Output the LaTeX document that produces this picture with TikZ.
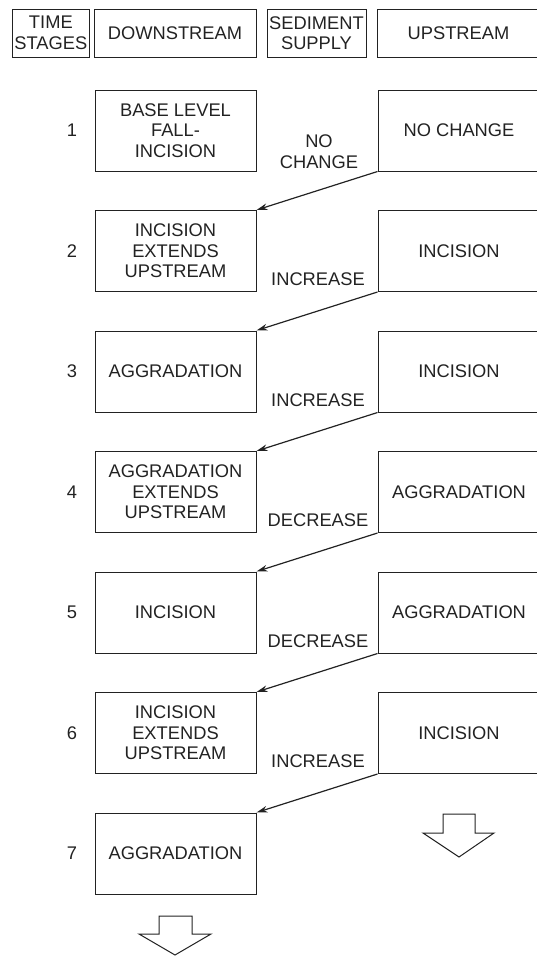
\documentclass[tikz,border=0pt]{standalone}
\usepackage{fontspec}
\setmainfont{Liberation Sans}
\usetikzlibrary{arrows.meta}
\definecolor{ink}{HTML}{222222}
\begin{document}
\begin{tikzpicture}[x=1pt,y=-1pt,
  every node/.style={font=\fontsize{18.3}{20.5}\selectfont, text=ink, align=center, inner sep=0pt},
  hbox/.style={draw=ink, line width=1pt, minimum height=48pt},
  dbox/.style={draw=ink, line width=1pt, minimum width=161pt, minimum height=81pt},
  ubox/.style={draw=ink, line width=1pt, minimum width=162pt, minimum height=81pt},
  flow/.style={draw=ink, line width=1.2pt, -{Stealth[length=11pt,width=6.5pt]}},
  hollow/.style={draw=ink, line width=1pt, fill=white, line join=miter}]
\useasboundingbox (0,0) rectangle (537,956);
\clip (0,0) rectangle (537,956);
% header
\node[hbox, minimum width=76.3pt] (hT) at (50.85,33) {TIME\\STAGES};
\node[hbox, minimum width=162pt] (hD) at (175,33) {DOWNSTREAM};
\node[hbox, minimum width=99pt] (hS) at (316.5,33) {SEDIMENT\\SUPPLY};
\node[hbox, minimum width=163pt] (hU) at (458.5,33) {UPSTREAM};
% stage numbers
\node (n1) at (72,130.5) {1};
\node (n2) at (72,251) {2};
\node (n3) at (72,371.5) {3};
\node (n4) at (72,492) {4};
\node (n5) at (72,612.5) {5};
\node (n6) at (72,733) {6};
\node (n7) at (72,853.5) {7};
% downstream boxes
\node[dbox] (d1) at (175.5,130.5) {BASE LEVEL\\FALL-\\INCISION};
\node[dbox] (d2) at (175.5,251) {INCISION\\EXTENDS\\UPSTREAM};
\node[dbox] (d3) at (175.5,371.5) {AGGRADATION};
\node[dbox] (d4) at (175.5,492) {AGGRADATION\\EXTENDS\\UPSTREAM};
\node[dbox] (d5) at (175.5,612.5) {INCISION};
\node[dbox] (d6) at (175.5,733) {INCISION\\EXTENDS\\UPSTREAM};
\node[dbox] (d7) at (175.5,853.5) {AGGRADATION};
% upstream boxes
\node[ubox] (u1) at (459,130.5) {NO CHANGE};
\node[ubox] (u2) at (459,251) {INCISION};
\node[ubox] (u3) at (459,371.5) {INCISION};
\node[ubox] (u4) at (459,492) {AGGRADATION};
\node[ubox] (u5) at (459,612.5) {AGGRADATION};
\node[ubox] (u6) at (459,733) {INCISION};
% sediment supply labels
\node (s1) at (319,151.5) {NO\\CHANGE};
\node (s2) at (318,279.5) {INCREASE};
\node (s3) at (318,400) {INCREASE};
\node (s4) at (318,520.5) {DECREASE};
\node (s5) at (318,641) {DECREASE};
\node (s6) at (318,761.5) {INCREASE};
% connectors
\draw[flow] (u1.south west) -- (d2.north east);
\draw[flow] (u2.south west) -- (d3.north east);
\draw[flow] (u3.south west) -- (d4.north east);
\draw[flow] (u4.south west) -- (d5.north east);
\draw[flow] (u5.south west) -- (d6.north east);
\draw[flow] (u6.south west) -- (d7.north east);
% hollow down arrows
\draw[hollow] (443,814) -- (475,814) -- (475,833) -- (494,833) -- (459,857) -- (423,833) -- (443,833) -- cycle;
\draw[hollow] (159,916) -- (192,916) -- (192,934) -- (211,934) -- (175,955) -- (139,934) -- (159,934) -- cycle;
\end{tikzpicture}
\end{document}
